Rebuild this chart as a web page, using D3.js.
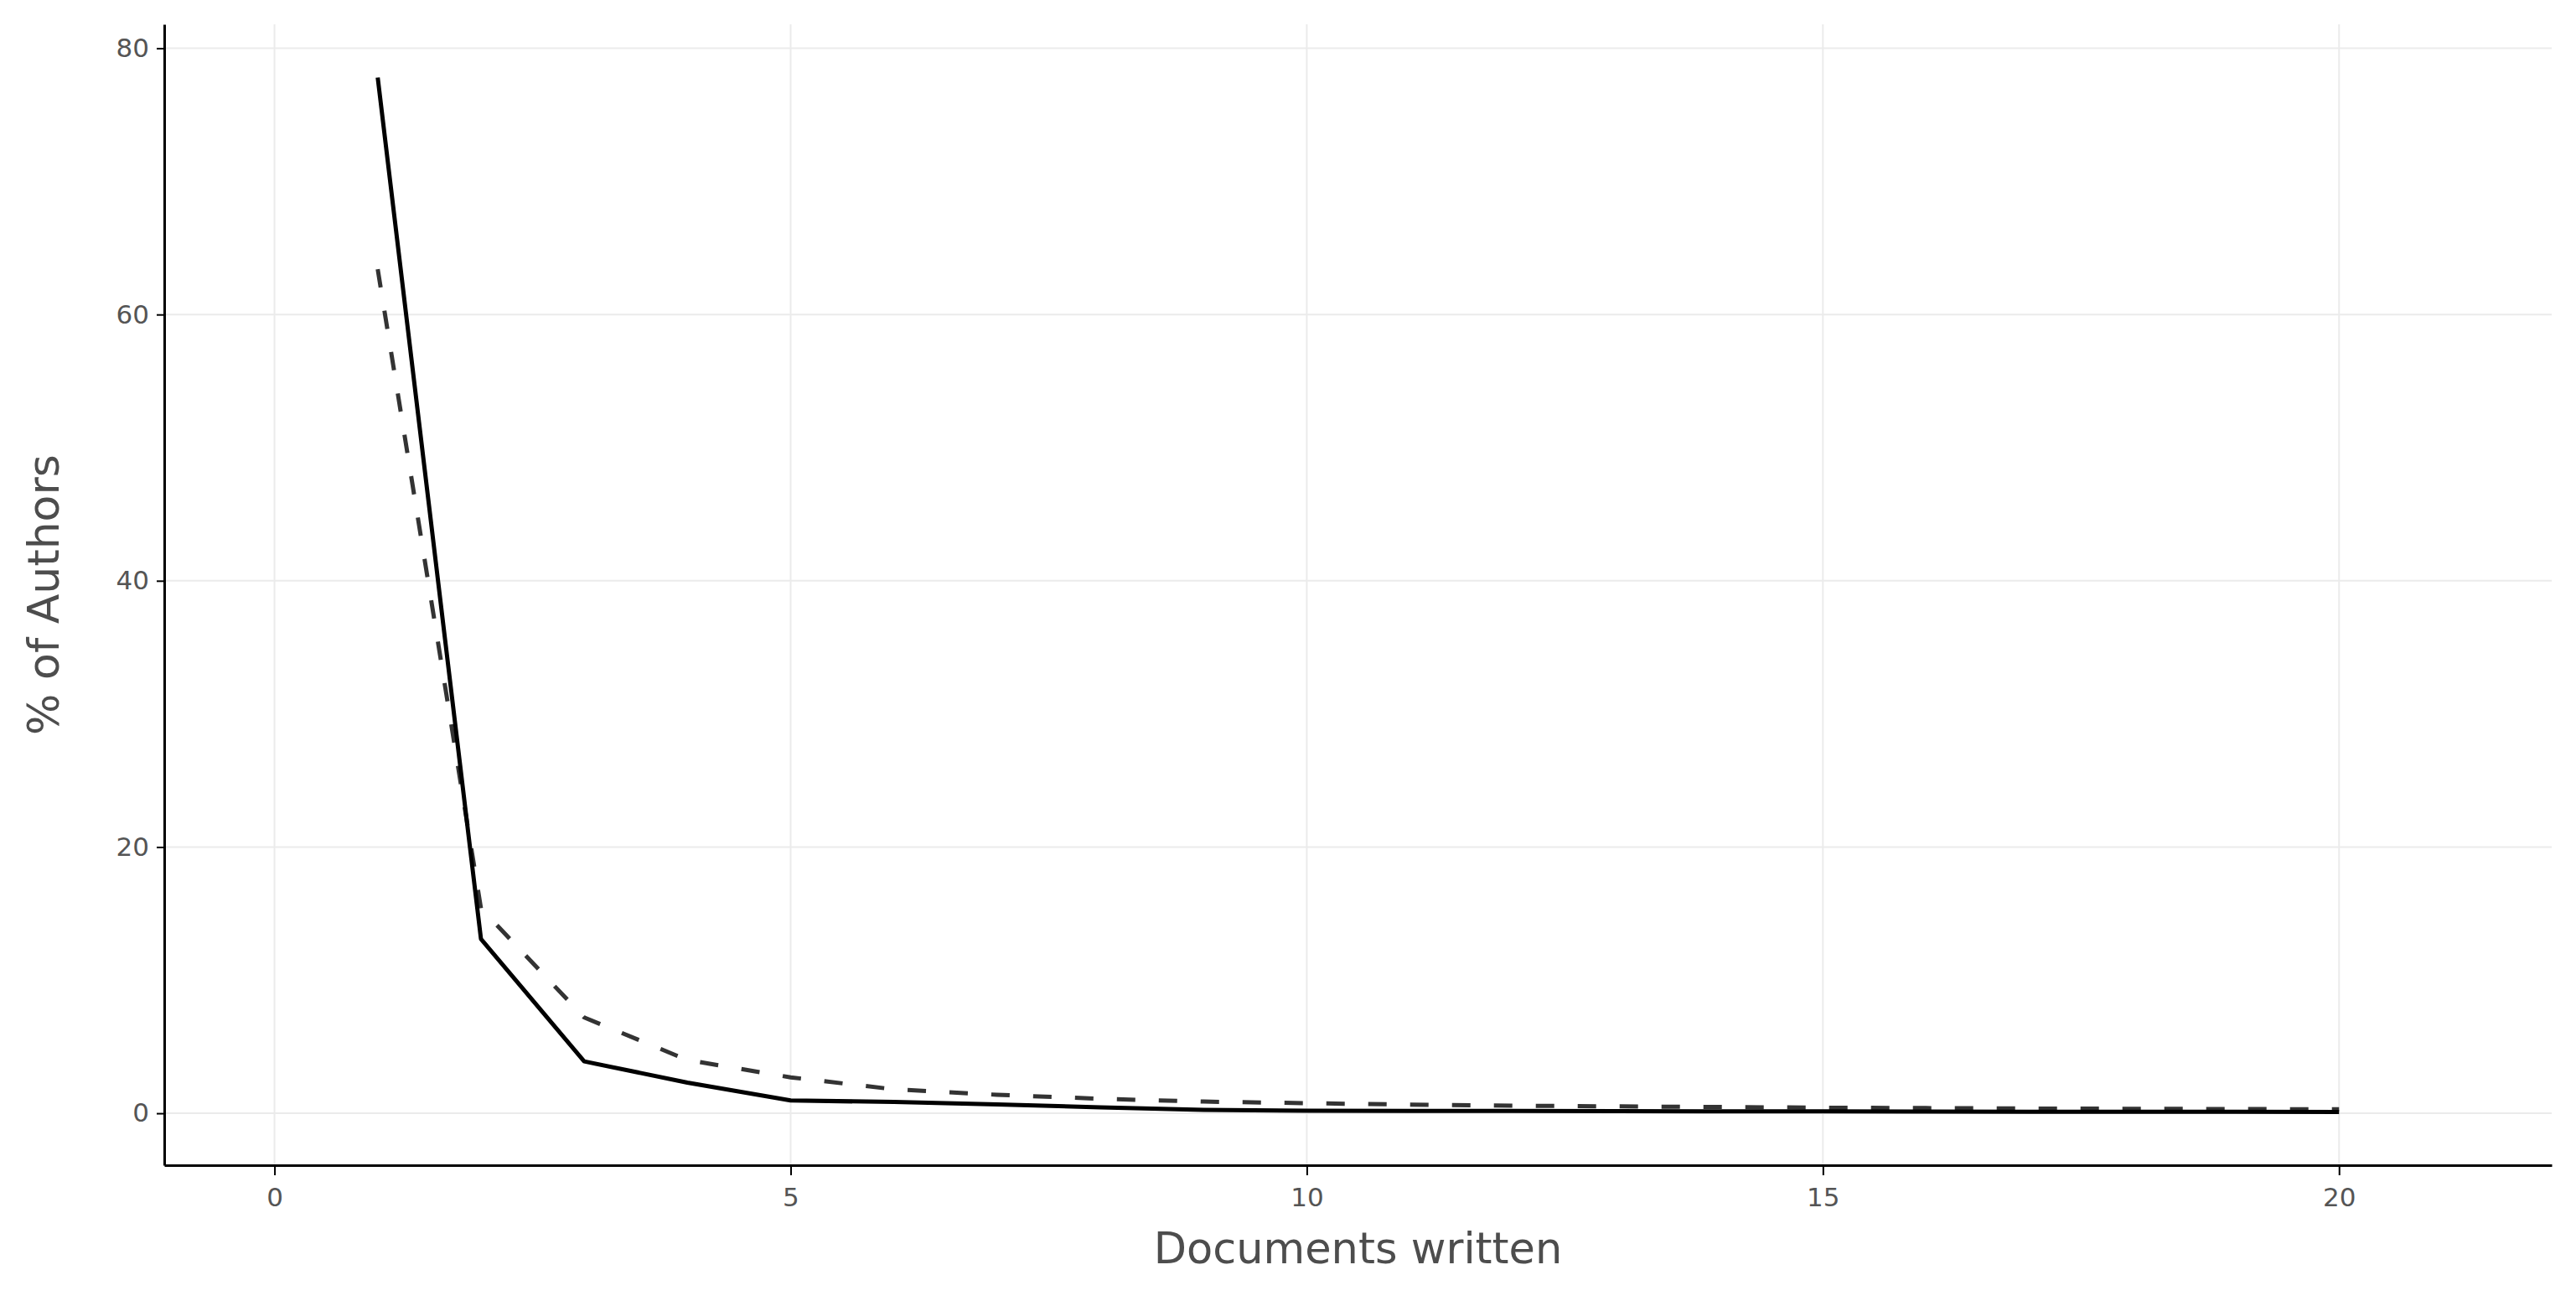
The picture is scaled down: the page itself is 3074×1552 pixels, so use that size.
<!DOCTYPE html>
<html>

<head>
    <meta charset="utf-8">
    <title>Documents written per author</title>
    <script src="https://d3js.org/d3.v7.min.js"></script>
    <style>
        body {
            margin: 0;
            background: #fff;
        }

        .grid line {
            stroke: #ebebeb;
            stroke-width: 2;
        }

        .axis text {
            font-family: "DejaVu Sans", sans-serif;
            font-size: 31px;
            fill: #555;
        }

        .axis line {
            stroke: #000;
            stroke-width: 2;
        }

        .axis path {
            stroke: #000;
            stroke-width: 3;
        }

        .axis-title {
            font-family: "DejaVu Sans", sans-serif;
            fill: #4d4d4d;
        }
    </style>
</head>

<body>
    <div id="chart"></div>

    <script>
        // documents written (x) and % of authors for the two series
        const docsWritten = [1, 2, 3, 4, 5, 6, 7, 8, 9, 10, 11, 12, 13, 14, 15, 16, 17, 18, 19, 20];
        const solidPct = [77.8, 13.1, 3.9, 2.3, 0.96, 0.85, 0.67, 0.45, 0.25, 0.2, 0.18, 0.17, 0.16, 0.15, 0.14, 0.13, 0.12, 0.12, 0.11, 0.1];
        const dashedPct = [63.4, 15.4, 7.2, 4.0, 2.7, 1.8, 1.39, 1.09, 0.88, 0.76, 0.65, 0.57, 0.52, 0.47, 0.42, 0.39, 0.36, 0.34, 0.32, 0.3];
        const xTicks = [0, 5, 10, 15, 20];
        const yTicks = [0, 20, 40, 60, 80];

        const width = 3074;
        const height = 1552;
        const margin = { top: 29, right: 29, bottom: 162, left: 196 };

        const svg = d3.select("#chart")
            .append("svg")
            .attr("width", width)
            .attr("height", height);

        const x = d3.scaleLinear()
            .domain([-1.068, 22.06])
            .range([margin.left, width - margin.right]);

        const y = d3.scaleLinear()
            .domain([-3.9, 81.8])
            .range([height - margin.bottom, margin.top]);

        // gridlines
        const grid = svg.append("g").attr("class", "grid");
        grid.selectAll(".gx")
            .data(xTicks)
            .enter()
            .append("line")
            .attr("x1", d => x(d))
            .attr("x2", d => x(d))
            .attr("y1", margin.top)
            .attr("y2", height - margin.bottom);
        grid.selectAll(".gy")
            .data(yTicks)
            .enter()
            .append("line")
            .attr("x1", margin.left)
            .attr("x2", width - margin.right)
            .attr("y1", d => y(d))
            .attr("y2", d => y(d));

        const line = d3.line()
            .x(d => x(d[0]))
            .y(d => y(d[1]));

        svg.append("path")
            .datum(docsWritten.map((d, i) => [d, dashedPct[i]]))
            .attr("fill", "none")
            .attr("stroke", "#333")
            .attr("stroke-width", 5)
            .attr("stroke-dasharray", "22,28")
            .attr("d", line);

        svg.append("path")
            .datum(docsWritten.map((d, i) => [d, solidPct[i]]))
            .attr("fill", "none")
            .attr("stroke", "#000")
            .attr("stroke-width", 5)
            .attr("stroke-linejoin", "round")
            .attr("d", line);

        // axes
        svg.append("g")
            .attr("class", "axis")
            .attr("transform", `translate(0,${height - margin.bottom})`)
            .call(d3.axisBottom(x).tickValues(xTicks).tickSize(12).tickPadding(15).tickSizeOuter(0));

        svg.append("g")
            .attr("class", "axis")
            .attr("transform", `translate(${margin.left},0)`)
            .call(d3.axisLeft(y).tickValues(yTicks).tickSize(9).tickPadding(9).tickSizeOuter(0));

        svg.append("text")
            .attr("class", "axis-title")
            .attr("x", (margin.left + width - margin.right) / 2)
            .attr("y", 1507)
            .attr("text-anchor", "middle")
            .style("font-size", "51px")
            .text("Documents written");

        svg.append("text")
            .attr("class", "axis-title")
            .attr("transform", `translate(70,${(margin.top + height - margin.bottom) / 2}) rotate(-90)`)
            .attr("text-anchor", "middle")
            .style("font-size", "52px")
            .text("% of Authors");
    </script>
</body>

</html>
